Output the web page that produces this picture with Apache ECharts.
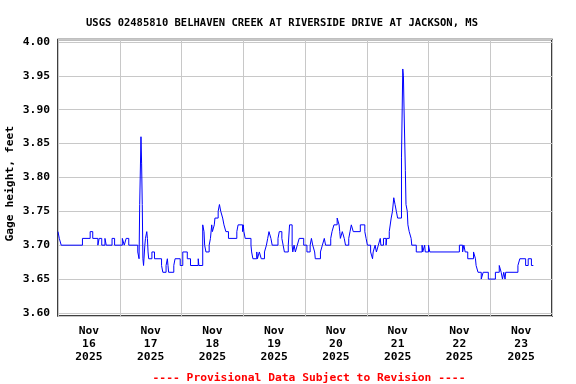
<!DOCTYPE html>
<html>
<head>
<meta charset="utf-8">
<script src="https://cdn.jsdelivr.net/npm/echarts@6/dist/echarts.min.js"></script>
<style>html,body{margin:0;padding:0;background:#fff}#c{width:576px;height:384px}</style>
</head>
<body>
<div id="c"></div>
<script>
// Hours since 2025-11-16 00:00 (local) and gage height (feet)
const hours = [0,0.5,1.25,9.5,12.5,13.5,15.5,16,17,18.25,18.75,21,22,25,25.75,26.5,27.5,31,31.5,31.75,32.25,32.5,32.75,33,33.25,33.75,34,34.5,34.75,35,35.25,36.5,37.5,40.25,40.75,42,42.5,42.75,43,45,45.5,47.5,48.5,50.25,51.5,54.5,54.75,56.25,56.75,57,57.5,58.75,59.25,59.75,60,60.75,61,62.25,62.75,63.25,64,64.5,65.25,66.25,69.5,70,71.75,72,72.25,72.75,75,75.25,75.75,77.25,77.5,78.25,79,80.25,81,81.5,82,82.75,83.25,85.5,86,87,87.5,88,89.5,90,91,91.25,91.75,92.25,93,93.75,95.5,96.75,98,98.5,99,99.75,100,102,102.75,103.5,104,106,106.5,107.25,108.5,109.25,109.5,109.75,110.5,111.25,111.75,113,113.5,114,114.75,117.5,119.25,119.75,120.25,121.5,122.25,122.5,123.25,123.75,124.5,125.25,125.5,126.5,127.5,127.75,128.75,129.5,130,130.5,131,131.5,132,133.5,134,134.25,134.5,135,135.25,135.75,136,136.5,137.25,137.5,139.25,141.5,141.75,142.5,142.75,144,144.5,156,157.25,157.75,158.25,159.25,161.5,162.25,162.5,163.25,164.5,165.25,167.25,170,171.5,172.25,172.75,173.25,173.75,174,178.75,179.5,181.75,182.75,184,184.75];
const gage = [3.72,3.71,3.70,3.71,3.72,3.71,3.70,3.71,3.70,3.71,3.70,3.71,3.70,3.71,3.70,3.71,3.70,3.69,3.68,3.76,3.86,3.82,3.76,3.68,3.67,3.70,3.71,3.72,3.71,3.69,3.68,3.69,3.68,3.67,3.66,3.67,3.68,3.67,3.66,3.67,3.68,3.67,3.69,3.68,3.67,3.68,3.67,3.73,3.72,3.70,3.69,3.70,3.71,3.73,3.72,3.73,3.74,3.75,3.76,3.75,3.74,3.73,3.72,3.71,3.72,3.73,3.72,3.73,3.72,3.71,3.70,3.69,3.68,3.69,3.68,3.69,3.68,3.69,3.70,3.71,3.72,3.71,3.70,3.71,3.72,3.71,3.70,3.69,3.70,3.73,3.70,3.69,3.70,3.69,3.70,3.71,3.70,3.69,3.70,3.71,3.70,3.69,3.68,3.69,3.70,3.71,3.70,3.71,3.72,3.73,3.74,3.73,3.72,3.71,3.72,3.71,3.70,3.71,3.72,3.73,3.72,3.73,3.72,3.71,3.70,3.69,3.68,3.69,3.70,3.69,3.70,3.71,3.70,3.71,3.70,3.71,3.72,3.74,3.75,3.77,3.76,3.75,3.74,3.83,3.96,3.95,3.90,3.81,3.76,3.75,3.73,3.72,3.71,3.70,3.69,3.70,3.69,3.70,3.69,3.70,3.69,3.70,3.69,3.70,3.69,3.68,3.69,3.68,3.67,3.66,3.65,3.66,3.65,3.66,3.67,3.66,3.65,3.66,3.65,3.66,3.67,3.68,3.67,3.68,3.67,3.67];
const dayMonth = 'Nov';
const dayNums = ['16','17','18','19','20','21','22','23'];
const dayYear = '2025';
const yTicks = [3.60,3.65,3.70,3.75,3.80,3.85,3.90,3.95,4.00];

const titleText = 'USGS 02485810 BELHAVEN CREEK AT RIVERSIDE DRIVE AT JACKSON, MS';
const footText = '---- Provisional Data Subject to Revision ----';
const yName = 'Gage height, feet';

const font = "'DejaVu Sans Mono', 'Liberation Mono', monospace";
const chart = echarts.init(document.getElementById('c'), null, {renderer: 'canvas'});
const labelPos = dayNums.map((d, i) => i * 24 + 12);

chart.setOption({
  animation: false,
  backgroundColor: '#fff',
  title: [
    {text: titleText, left: 277, top: 13, textAlign: 'center',
     textStyle: {fontFamily: font, fontSize: 10.5, fontWeight: 'bold', color: '#000'}},
    {text: footText, left: 304, top: 368, textAlign: 'center',
     textStyle: {fontFamily: font, fontSize: 11.3, fontWeight: 'bold', color: '#ff0000'}}
  ],
  grid: {left: 58, right: 24, top: 39.5, bottom: 68, show: true, borderColor: '#000', borderWidth: 1.5,
         backgroundColor: 'transparent', containLabel: false, outerBoundsMode: 'none'},
  xAxis: {
    type: 'value', min: 0, max: 192, interval: 24,
    axisLine: {show: false},
    axisTick: {show: false},
    splitLine: {show: true, lineStyle: {color: '#c8c8c8', width: 1}},
    axisLabel: {
      customValues: labelPos,
      margin: 9,
      fontFamily: font, fontSize: 11.3, fontWeight: 'bold', color: '#000', lineHeight: 12.8,
      formatter: function (v) {
        const i = Math.round((v - 12) / 24);
        return dayMonth + '\n' + dayNums[i] + '\n' + dayYear;
      }
    }
  },
  yAxis: {
    type: 'value', min: 3.5955, max: 4.0035, splitNumber: 8,
    axisLine: {show: false},
    axisTick: {show: false},
    splitLine: {show: true, lineStyle: {color: '#c8c8c8', width: 1}},
    name: yName, nameLocation: 'middle', nameGap: 42, nameRotate: 90, nameMoveOverlap: false,
    nameTextStyle: {fontFamily: font, fontSize: 11.3, fontWeight: 'bold', color: '#000', padding: [0, 12, 0, 0]},
    axisLabel: {
      customValues: yTicks,
      margin: 8, fontFamily: font, fontSize: 11.3, fontWeight: 'bold', color: '#000',
      formatter: v => v.toFixed(2)
    }
  },
  series: [{
    type: 'line', step: 'end', showSymbol: false, symbol: 'none',
    lineStyle: {color: '#0000ff', width: 1},
    data: hours.map((h, i) => [h, gage[i]])
  }]
});
</script>
</body>
</html>
